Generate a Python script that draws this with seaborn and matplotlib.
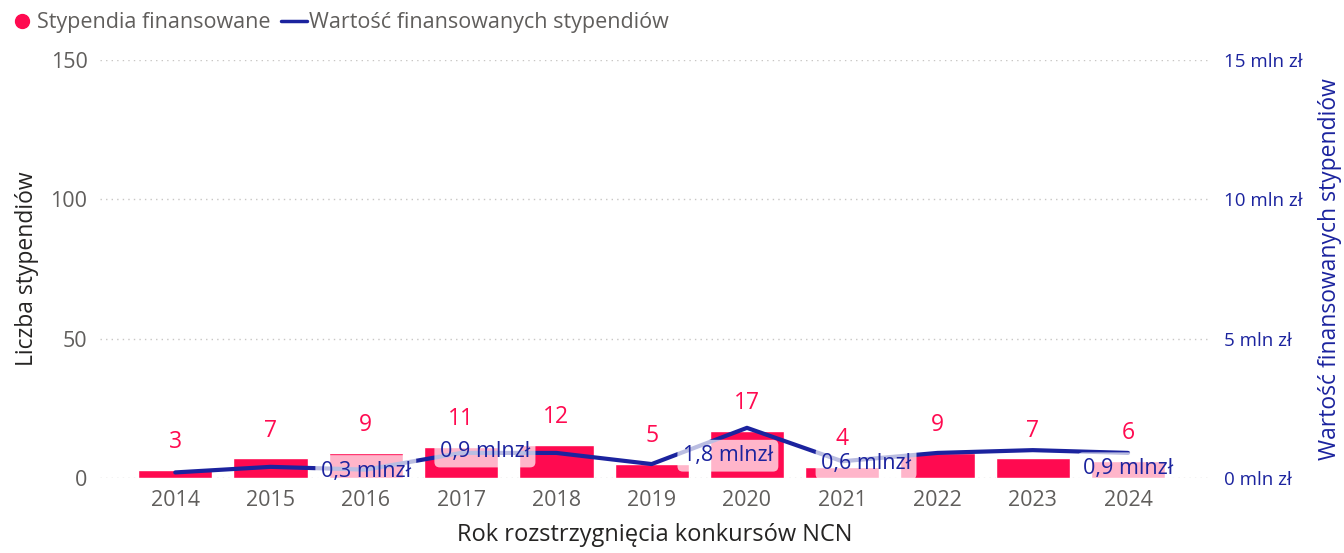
import matplotlib.pyplot as plt
import numpy as np
import pandas as pd
import seaborn as sns
from matplotlib.lines import Line2D

# data
years = ["2014", "2015", "2016", "2017", "2018", "2019", "2020", "2021", "2022", "2023", "2024"]
scholarships = [3, 7, 9, 11, 12, 5, 17, 4, 9, 7, 6]
value_mln = [0.2, 0.4, 0.3, 0.9, 0.9, 0.5, 1.8, 0.6, 0.9, 1.0, 0.9]
# which points carry a value label (and the label text)
value_labels = {2: "0,3 mlnzł", 3: "0,9 mlnzł", 6: "1,8 mlnzł", 7: "0,6 mlnzł", 10: "0,9 mlnzł"}

RED = "#FF0A50"
BLUE = "#1B239E"
GRAY = "#605E5C"

sns.set_theme(style="white")
plt.rcParams["font.family"] = ["Open Sans", "DejaVu Sans"]

df = pd.DataFrame({"year": years, "count": scholarships, "value": value_mln})
df["pos"] = np.arange(len(df))

fig = plt.figure(figsize=(13.44, 5.53), dpi=100)
ax = fig.add_axes([100 / 1344, 1 - 478 / 553, 1110 / 1344, 418 / 553])

sns.barplot(data=df, x="year", y="count", color=RED, width=0.78, saturation=1, ax=ax, zorder=2)
ax.set_ylim(0, 150)
ax.set_yticks([0, 50, 100, 150])
ax.set_xlim(-0.79, 10.86)
ax.yaxis.grid(True, linestyle=(0, (1, 3)), color="#C8C6C4", linewidth=1)
ax.set_axisbelow(True)
for s in ax.spines.values():
    s.set_visible(False)
ax.tick_params(axis="both", length=0, labelsize=15.5, labelcolor=GRAY, pad=9)
ax.set_xlabel("Rok rozstrzygnięcia konkursów NCN", fontsize=17, color="#252423", labelpad=8)
ax.set_ylabel("Liczba stypendiów", fontsize=16.5, color="#252423", labelpad=8)

for i, v in enumerate(scholarships):
    ax.text(i, v + 10, str(v), ha="center", va="center", fontsize=16.5, color=RED)

ax2 = ax.twinx()
sns.lineplot(data=df, x="pos", y="value", color=BLUE, linewidth=3, ax=ax2, zorder=3)
ax2.set_ylim(0, 15)
ax2.set_yticks([0, 5, 10, 15])
ax2.set_yticklabels(["0 mln zł", "5 mln zł", "10 mln zł", "15 mln zł"])
ax2.tick_params(axis="y", length=0, labelsize=13.5, labelcolor=BLUE, pad=10)
ax2.set_xlim(-0.79, 10.86)
ax2.set_xlabel("")
ax2.set_ylabel("Wartość finansowanych stypendiów", fontsize=16.5, color=BLUE, labelpad=11)
for s in ax2.spines.values():
    s.set_visible(False)

offsets = {2: (0, -0.05), 3: (0.25, 0.05), 6: (-0.2, -1.0), 7: (0.25, -0.08), 10: (0, -0.55)}
for i, txt in value_labels.items():
    dx, dy = offsets[i]
    ax2.text(i + dx, value_mln[i] + dy, txt, ha="center", va="center", fontsize=15.5, color=BLUE,
             zorder=4, bbox=dict(boxstyle="round,pad=0.25", fc="white", ec="none", alpha=0.7))

handles = [
    Line2D([], [], marker="o", color=RED, linestyle="none", markersize=10),
    Line2D([], [], color=BLUE, linewidth=2.5),
]
fig.legend(handles, ["Stypendia finansowane", "Wartość finansowanych stypendiów"],
           loc="upper left", bbox_to_anchor=(0.0, 0.993), ncol=2, frameon=False,
           borderaxespad=0.0, borderpad=0.4, handlelength=1.2,
           fontsize=15.5, labelcolor=GRAY, handletextpad=0.1, columnspacing=0.5)

fig.savefig("out.png", dpi=100)
